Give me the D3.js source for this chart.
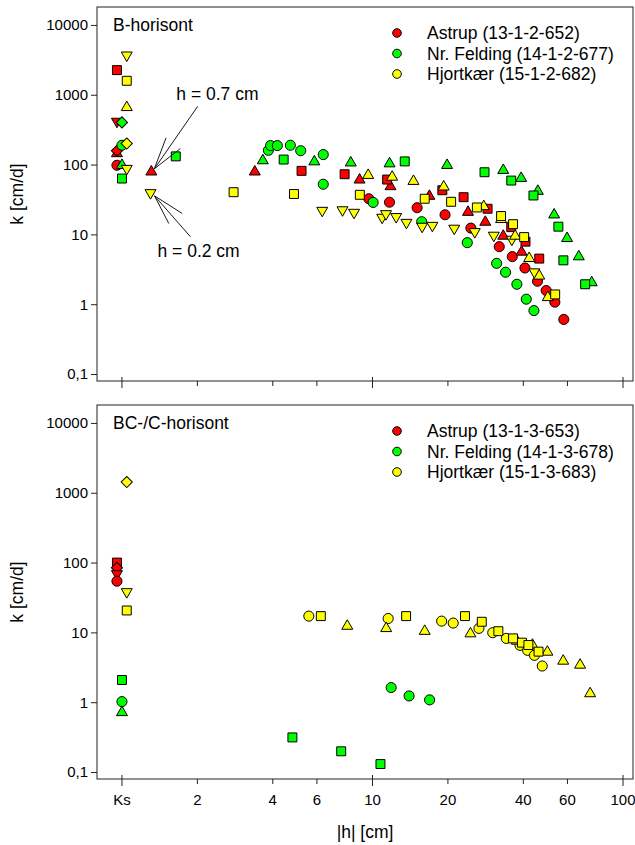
<!DOCTYPE html>
<html>
<head>
<meta charset="utf-8">
<script src="https://cdn.jsdelivr.net/npm/d3@7"></script>
<style>
  html, body { margin: 0; padding: 0; background: #fff; }
  svg { display: block; font-family: "Liberation Sans", Arial, sans-serif; }
</style>
</head>
<body>
<svg id="chart" width="635" height="845"></svg>
<script>
// ---------- DATA ----------
const siteColors = ["#ff0000", "#00ff00", "#ffff00"];
const topTitle = "B-horisont";
const bottomTitle = "BC-/C-horisont";
const topLegend = ["Astrup (13-1-2-652)", "Nr. Felding (14-1-2-677)", "Hjortkær (15-1-2-682)"];
const bottomLegend = ["Astrup (13-1-3-653)", "Nr. Felding (14-1-3-678)", "Hjortkær (15-1-3-683)"];
const xTickValues = [1, 2, 4, 6, 10, 20, 40, 60, 100];
const xTickLabels = ["Ks", "2", "4", "6", "10", "20", "40", "60", "100"];
const xMajorTicks = [1, 10, 100];
const yTickValues = [0.1, 1, 10, 100, 1000, 10000];
const yTickLabels = ["0,1", "1", "10", "100", "1000", "10000"];
const xTitle = "|h| [cm]";
const yTitle = "k [cm/d]";

// B-horisont  [|h| cm, k cm/d]  (Ks plotted at |h| ≈ 1)
const bAstrupCircle = [[0.955,97.7],[9.67,32.4],[11.69,28.9],[15.07,24.1],[19.48,19.1],[24.7,12.3],[32.06,6.67],[36.13,4.80],[40.6,3.30],[45.56,2.13],[49.34,1.57],[53.45,1.07],[58.03,0.605]];
const bAstrupTriUp = [[0.955,144],[1.31,78.7],[3.39,78.7],[8.88,60.4],[11.8,48.5],[16.87,35.3],[24.06,20.8],[28.2,15.0],[33.26,9.46],[39.35,5.59]];
const bAstrupTriDown = [[0.955,415]];
const bAstrupSquare = [[0.955,2254],[5.21,81.3],[7.74,72.7],[11.44,61.0],[19.0,42.9],[23.1,34.1],[28.8,23.3],[35.8,12.7],[40.8,7.87],[46.3,4.50]];
const bAstrupDiamond = [[0.955,158]];

const bFeldingCircle = [[1.0,189],[3.84,160],[3.92,187],[4.17,187],[4.70,189],[5.17,158],[6.36,139],[6.36,52.3],[10.06,28.7],[15.72,15.2],[23.9,7.61],[31.3,3.85],[33.97,2.87],[37.7,1.93],[41.1,1.18],[44.1,0.81]];
const bFeldingTriUp = [[1.0,97.7],[3.65,114],[5.86,110],[8.19,106],[11.7,103],[19.85,97.7],[33.26,82.9],[39.2,63.7],[45.7,41.6],[53.1,19.1],[59.8,8.77],[66.6,4.80],[75.0,2.04]];
const bFeldingSquare = [[1.0,63.1],[1.64,131],[4.42,118],[13.45,111],[28.0,77.6],[35.8,59.0],[43.9,36.1],[55.2,12.9],[57.8,4.25],[70.6,1.93]];
const bFeldingDiamond = [[1.0,402]];

const bHjortTriDown = [[1.045,3690],[1.045,87.7],[1.30,39.4],[6.30,22.0],[7.59,22.4],[8.44,20.6],[10.93,17.5],[11.32,19.7],[12.43,17.9],[13.66,14.8],[15.78,13.0],[17.34,13.4],[21.2,12.2],[25.6,10.9],[30.5,9.68],[36.0,8.49],[44.3,2.89]];
const bHjortTriUp = [[1.045,659],[9.61,70.3],[11.98,66.3],[14.57,57.7],[19.24,48.0],[27.8,25.1],[32.6,16.4],[37.1,9.46],[42.2,4.54],[46.3,2.54],[50.1,1.25]];
const bHjortSquare = [[1.045,1585],[2.79,40.2],[4.86,37.9],[8.90,36.9],[16.16,32.4],[20.6,29.3],[26.1,24.3],[32.6,18.3],[36.4,14.0],[40.3,9.15],[53.6,1.38]];
const bHjortDiamond = [[1.045,200]];

// BC-/C-horisont
const cAstrupCircle = [[0.955,54.1]];
const cAstrupTriDown = [[0.955,69]];
const cAstrupSquare = [[0.955,100]];
const cAstrupDiamond = [[0.955,84]];

const cFeldingCircle = [[1.0,1.02],[11.87,1.62],[14.0,1.23],[16.9,1.08]];
const cFeldingTriUp = [[1.0,0.713]];
const cFeldingSquare = [[1.0,2.08],[4.79,0.313],[7.50,0.198],[10.76,0.130]];

const cHjortCircle = [[5.57,17.1],[11.55,15.8],[18.88,14.5],[21.0,13.6],[26.6,11.4],[30.2,9.9],[34.2,8.2],[38.8,6.52],[41.6,5.53],[44.3,4.69],[47.6,3.30]];
const cHjortTriUp = [[7.93,12.3],[11.34,11.4],[16.16,10.4],[24.6,9.58],[37.7,7.51],[43.5,6.59],[49.9,5.23],[57.7,3.89],[67.4,3.41],[73.9,1.33]];
const cHjortSquare = [[1.045,20.6],[6.22,17.1],[13.62,17.1],[23.4,17.1],[27.3,14.2],[31.8,10.4],[36.4,8.2],[39.5,7.13],[41.9,6.59],[46.0,5.30]];
const cHjortTriDown = [[1.045,38.1]];
const cHjortDiamond = [[1.045,1422]];

// annotations (points they refer to)
const annot07 = { text: "h = 0.7 cm", point: [1.31, 78.7] };
const annot02 = { text: "h = 0.2 cm", point: [1.30, 39.4] };

// ---------- SERIES ASSEMBLY ----------
const topSeries = [
  { data: bAstrupCircle, site: 0, shape: "circle" },
  { data: bAstrupTriUp, site: 0, shape: "triUp" },
  { data: bAstrupTriDown, site: 0, shape: "triDown" },
  { data: bAstrupSquare, site: 0, shape: "square" },
  { data: bAstrupDiamond, site: 0, shape: "diamond" },
  { data: bFeldingCircle, site: 1, shape: "circle" },
  { data: bFeldingTriUp, site: 1, shape: "triUp" },
  { data: bFeldingSquare, site: 1, shape: "square" },
  { data: bFeldingDiamond, site: 1, shape: "diamond" },
  { data: bHjortTriDown, site: 2, shape: "triDown" },
  { data: bHjortTriUp, site: 2, shape: "triUp" },
  { data: bHjortSquare, site: 2, shape: "square" },
  { data: bHjortDiamond, site: 2, shape: "diamond" }
];
const bottomSeries = [
  { data: cAstrupSquare, site: 0, shape: "square" },
  { data: cAstrupDiamond, site: 0, shape: "diamond" },
  { data: cAstrupTriDown, site: 0, shape: "triDown" },
  { data: cAstrupCircle, site: 0, shape: "circle" },
  { data: cFeldingSquare, site: 1, shape: "square" },
  { data: cFeldingCircle, site: 1, shape: "circle" },
  { data: cFeldingTriUp, site: 1, shape: "triUp" },
  { data: cHjortCircle, site: 2, shape: "circle" },
  { data: cHjortTriUp, site: 2, shape: "triUp" },
  { data: cHjortSquare, site: 2, shape: "square" },
  { data: cHjortTriDown, site: 2, shape: "triDown" },
  { data: cHjortDiamond, site: 2, shape: "diamond" }
];

// ---------- LAYOUT ----------
const svg = d3.select("#chart");
svg.append("rect").attr("width", 635).attr("height", 845).attr("fill", "#fff");

const left = 97, right = 633;
const x = d3.scaleLog().domain([0.795, 109.6]).range([left, right]);

const symbols = {
  circle: { path: d3.symbol().type(d3.symbolCircle).size(80)(), rot: 0 },
  triUp: { path: d3.symbol().type(d3.symbolTriangle).size(52)(), rot: 0 },
  triDown: { path: d3.symbol().type(d3.symbolTriangle).size(52)(), rot: 180 },
  square: { path: d3.symbol().type(d3.symbolSquare).size(80)(), rot: 0 },
  diamond: { path: d3.symbol().type(d3.symbolSquare).size(62)(), rot: 45 }
};

function drawPanel(top, bottom, series, title, legend, showXLabels, annotations) {
  const y = d3.scaleLog().domain([Math.pow(10, -1.1), Math.pow(10, 4.257)]).range([bottom, top]);
  const g = svg.append("g");

  // frame
  g.append("rect")
    .attr("x", left).attr("y", top)
    .attr("width", right - left).attr("height", bottom - top)
    .attr("fill", "none").attr("stroke", "#222").attr("stroke-width", 1);

  // y axis
  const ya = g.append("g").attr("transform", `translate(${left},0)`)
    .call(d3.axisLeft(y).tickValues(yTickValues)
      .tickFormat((d, i) => yTickLabels[i]).tickSize(6).tickPadding(3));
  ya.select(".domain").remove();
  ya.selectAll("line").attr("stroke", "#222");
  ya.selectAll("text").attr("font-size", 15).attr("fill", "#000")
    .attr("font-family", "Liberation Sans, Arial, sans-serif");

  // x ticks
  const xt = g.append("g");
  xt.selectAll("line").data(xTickValues).join("line")
    .attr("x1", d => x(d)).attr("x2", d => x(d))
    .attr("y1", d => xMajorTicks.includes(d) ? bottom - 4 : bottom)
    .attr("y2", d => xMajorTicks.includes(d) ? bottom + 7 : bottom + 5)
    .attr("stroke", "#222");
  if (showXLabels) {
    xt.selectAll("text").data(xTickValues).join("text")
      .attr("x", d => x(d)).attr("y", bottom + 26)
      .attr("text-anchor", "middle").attr("font-size", 15).attr("fill", "#000")
      .text((d, i) => xTickLabels[i]);
  }

  // y title
  g.append("text")
    .attr("transform", `translate(23,${(top + bottom) / 2}) rotate(-90)`)
    .attr("text-anchor", "middle").attr("font-size", 17.5).attr("fill", "#000")
    .text(yTitle);

  // panel title
  g.append("text").attr("x", 113).attr("y", top + 24)
    .attr("font-size", 17.5).attr("fill", "#000").text(title);

  // legend
  const lg = g.append("g");
  legend.forEach((lab, i) => {
    const ly = top + 26 + i * 20.5;
    lg.append("circle").attr("cx", 397).attr("cy", ly).attr("r", 4.3)
      .attr("fill", siteColors[i]).attr("stroke", "#000").attr("stroke-width", 1);
    lg.append("text").attr("x", 427).attr("y", ly + 6)
      .attr("font-size", 17.5).attr("fill", "#000").text(lab);
  });

  // points
  const pg = g.append("g");
  series.forEach(s => {
    const sym = symbols[s.shape];
    pg.selectAll(null).data(s.data).join("path")
      .attr("d", sym.path)
      .attr("transform", d => `translate(${x(d[0])},${y(d[1])}) rotate(${sym.rot})`)
      .attr("fill", siteColors[s.site])
      .attr("stroke", "#000").attr("stroke-width", 1);
  });

  // annotations
  (annotations || []).forEach(a => {
    const px = x(a.ann.point[0]), py = y(a.ann.point[1]);
    const tx = px + a.tip[0], ty = py + a.tip[1];
    const ag = g.append("g").attr("stroke", "#000").attr("stroke-width", 0.9);
    [a.start, a.head1, a.head2].forEach(o => {
      ag.append("line").attr("x1", tx).attr("y1", ty)
        .attr("x2", tx + o[0]).attr("y2", ty + o[1]);
    });
    g.append("text").attr("x", px + a.label[0]).attr("y", py + a.label[1])
      .attr("font-size", 17.5).attr("fill", "#000").text(a.ann.text);
  });
  return y;
}

drawPanel(7, 381, topSeries, topTitle, topLegend, false, [
  { ann: annot07, tip: [3, -3], start: [43.4, -62.6], head1: [11.7, -31], head2: [26, -20.3], label: [25, -72] },
  { ann: annot02, tip: [4, 3], start: [36, 41], head1: [14.3, 27.7], head2: [27.7, 17.7], label: [7, 64] }
]);
drawPanel(405, 779, bottomSeries, bottomTitle, bottomLegend, true, []);

// x title
svg.append("text").attr("x", 365).attr("y", 838)
  .attr("text-anchor", "middle").attr("font-size", 17.5).attr("fill", "#000")
  .text(xTitle);
</script>
</body>
</html>
